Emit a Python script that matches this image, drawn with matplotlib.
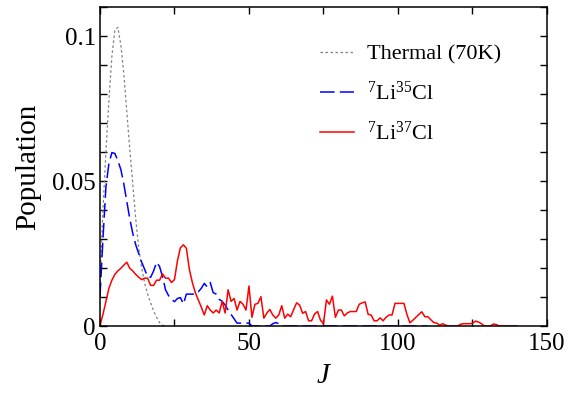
import numpy as np
import matplotlib
matplotlib.use("Agg")
import matplotlib.pyplot as plt
from matplotlib.ticker import MultipleLocator, FixedLocator

plt.rcParams['font.family'] = ['Liberation Serif', 'DejaVu Serif']
plt.rcParams['mathtext.fontset'] = 'custom'
plt.rcParams['mathtext.rm'] = 'Liberation Serif'
plt.rcParams['mathtext.it'] = 'Liberation Serif:italic'
plt.rcParams['lines.scale_dashes'] = False

# ---- data ----
thermal_J = list(range(0, 23))
thermal_pop = [0.015, 0.040, 0.060, 0.078, 0.093, 0.102, 0.103, 0.097, 0.087,
               0.074, 0.061, 0.049, 0.037, 0.027, 0.020, 0.0147, 0.0110,
               0.0080, 0.0052, 0.0030, 0.0012, 0.0003, 0.0]

li35_J = list(range(0, 111))
li35_pop = [0.010, 0.030, 0.048, 0.056, 0.0598, 0.0595, 0.057, 0.054, 0.049,
            0.043, 0.037, 0.032, 0.028, 0.025, 0.022, 0.0195, 0.017, 0.0168,
            0.019, 0.022, 0.0205, 0.017, 0.0125, 0.0105, 0.0092, 0.0084,
            0.0095, 0.0098, 0.0076, 0.011, 0.011, 0.011, 0.011, 0.0118,
            0.013, 0.0147, 0.0135, 0.015, 0.0115, 0.011, 0.0092, 0.0085,
            0.0072, 0.0055, 0.0040, 0.0025, 0.0010, 0.0010, 0.0010, 0.0010,
            0.0010, 0.0, 0.0, 0.0, 0.0, 0.0, 0.0, 0.0, 0.0008, 0.0012,
            0.0008] + [0.0] * 50

li37_J = list(range(0, 141))
li37_pop = [0.0003, 0.004, 0.0085, 0.013, 0.0158, 0.0178, 0.019, 0.0199,
            0.021, 0.022, 0.0199, 0.019, 0.0178, 0.0168, 0.016, 0.0165,
            0.0165, 0.014, 0.014, 0.0158, 0.0158, 0.018, 0.0165, 0.0165,
            0.0150, 0.016, 0.0225, 0.027, 0.028, 0.0268, 0.0195, 0.015,
            0.0115, 0.009, 0.0065, 0.0038, 0.007, 0.0055, 0.0045, 0.0055,
            0.0045, 0.0085, 0.0045, 0.0125, 0.0085, 0.0095, 0.0055, 0.0085,
            0.0075, 0.0055, 0.0138, 0.003, 0.0075, 0.0078, 0.0101, 0.0027,
            0.0045, 0.0057, 0.0038, 0.0027, 0.0038, 0.007, 0.0027, 0.0041,
            0.0032, 0.0057, 0.008, 0.0072, 0.0044, 0.005, 0.0018, 0.0018,
            0.0041, 0.005, 0.002, 0.0008, 0.009, 0.0075, 0.0103, 0.0030,
            0.0055, 0.0055, 0.0035, 0.0045, 0.005, 0.005, 0.005, 0.0075,
            0.008, 0.0083, 0.004, 0.0038, 0.0018, 0.0018, 0.0028, 0.0018,
            0.003, 0.0038, 0.0038, 0.0078, 0.0078, 0.0078, 0.0078, 0.004,
            0.0011, 0.002, 0.003, 0.004, 0.0049, 0.0032, 0.0032, 0.0022,
            0.0012, 0.0010, 0.0003, 0.0008, 0.0003, 0.0, 0.0, 0.0, 0.0,
            0.0006, 0.0008, 0.0008, 0.0008, 0.0009, 0.0017, 0.0014, 0.0008,
            0.0, 0.0, 0.0, 0.0007, 0.0005, 0.0, 0.0, 0.0, 0.0, 0.0, 0.0, 0.0]

labels = ['Thermal (70K)', r'$^{7}$Li$^{35}$Cl', r'$^{7}$Li$^{37}$Cl']
x_ticks = [0, 50, 100, 150]
y_ticks = [0, 0.05, 0.1]
y_tick_labels = ['0', '0.05', '0.1']

# ---- figure ----
fig = plt.figure(figsize=(5.68, 4.01), dpi=100)
ax = fig.add_axes([0.176, 0.187, 0.787, 0.7955])

ax.plot(thermal_J, thermal_pop, color='#808080', lw=0.9, dashes=(1.8, 1.8),
        label=labels[0])
ax.plot(li35_J, li35_pop, color='#0000ff', lw=1.1, dashes=(10.5, 3.8),
        label=labels[1])
ax.plot(li37_J, li37_pop, color='#ff0000', lw=1.1, label=labels[2])

ax.set_xlim(0, 150)
ax.set_ylim(0, 0.11)
ax.xaxis.set_major_locator(FixedLocator(x_ticks))
ax.xaxis.set_minor_locator(MultipleLocator(25))
ax.yaxis.set_major_locator(FixedLocator(y_ticks))
ax.set_yticklabels(y_tick_labels)
ax.yaxis.set_minor_locator(MultipleLocator(0.01))

ax.tick_params(which='both', direction='in', top=True, right=True,
               length=5, width=1.0, labelsize=18)
ax.tick_params(axis='x', pad=5)
ax.tick_params(axis='y', pad=3)
for s in ax.spines.values():
    s.set_linewidth(1.1)

ax.set_xlabel('J', fontsize=21, fontstyle='italic', labelpad=6)
ax.set_ylabel('Population', fontsize=21, labelpad=8)

ax.legend(loc='upper left', bbox_to_anchor=(0.448, 0.946), frameon=False,
          fontsize=16, handlelength=1.5, handletextpad=0.6,
          labelspacing=0.75)

fig.savefig('out.png', dpi=100)
